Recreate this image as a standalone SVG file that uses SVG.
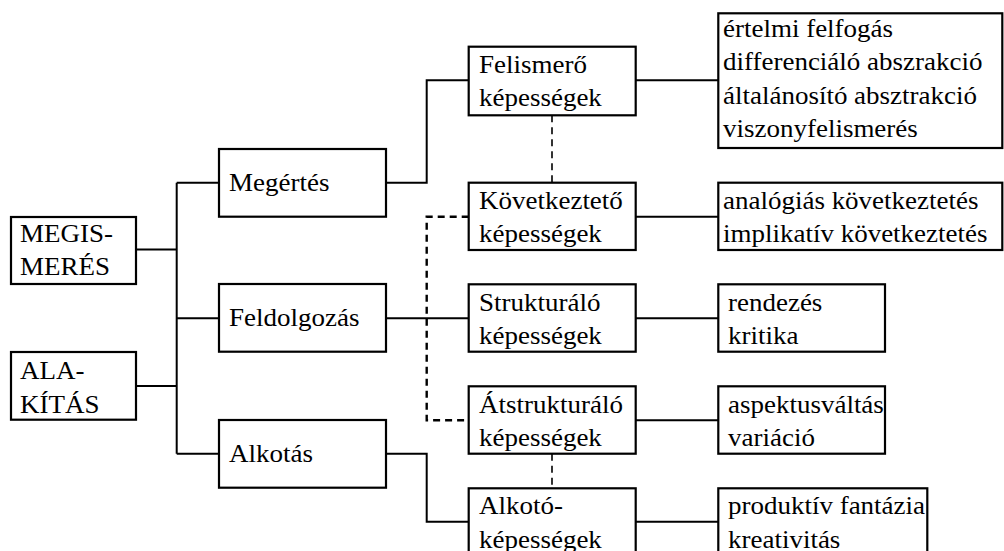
<svg xmlns="http://www.w3.org/2000/svg" width="1004" height="551" viewBox="0 0 1004 551">
<style>
.b{fill:#fff;stroke:#000;stroke-width:2.2}
.t{font-family:'Liberation Serif','Times New Roman',serif;font-size:25px;fill:#000}
.c{fill:none;stroke:#000;stroke-width:2}
.d{fill:none;stroke:#000;stroke-width:2.4;stroke-dasharray:7 5}
.d2{fill:none;stroke:#000;stroke-width:1.6;stroke-dasharray:7 5}
</style>
<rect width="1004" height="551" fill="#fff"/>
<g id="connectors">
<path class="c" d="M136 249.5H176.7M136 386H176.7M176.7 182.7V453.7M176.7 182.7H219M176.7 318.3H219M176.7 453.7H219"/>
<path class="c" d="M386 182.7H426.7V80.3H468.7"/>
<path class="c" d="M386 318.3H468.7"/>
<path class="c" d="M386 453.7H426.7V521.7H468.7"/>
<path class="d" d="M468.7 216.7H426.7V420.3H468.7"/>
<path class="d2" d="M552 115.3V182.7M552 453.7V488.3"/>
<path class="c" d="M635.7 80.3H718.3M635.7 216.7H718.3M635.7 318.3H718.3M635.7 420.3H718.3M635.7 521.7H718.3"/>
</g>
<g id="n-megismeres"><rect class="b" x="11" y="217" width="125" height="67"/>
<text class="t" transform="translate(20 241.7) scale(1.08 1)"><tspan x="0" y="0">MEGIS-</tspan><tspan x="0" y="33.4">MERÉS</tspan></text></g>
<g id="n-alakitas"><rect class="b" x="11" y="352" width="125" height="67.7"/>
<text class="t" transform="translate(20 378.7) scale(1.08 1)"><tspan x="0" y="0">ALA-</tspan><tspan x="0" y="34">KÍTÁS</tspan></text></g>
<g id="n-megertes"><rect class="b" x="219" y="149" width="167" height="67.7"/>
<text class="t" transform="translate(229 190.7) scale(1.08 1)">Megértés</text></g>
<g id="n-feldolgozas"><rect class="b" x="219" y="284" width="167" height="67.7"/>
<text class="t" transform="translate(229 326) scale(1.08 1)">Feldolgozás</text></g>
<g id="n-alkotas"><rect class="b" x="219" y="420" width="167" height="67.7"/>
<text class="t" transform="translate(229 462.3) scale(1.08 1)">Alkotás</text></g>
<g id="n-felismero"><rect class="b" x="468.7" y="46.7" width="167" height="68.6"/>
<text class="t" transform="translate(479 72.7) scale(1.08 1)"><tspan x="0" y="0">Felismerő</tspan><tspan x="0" y="33.4">képességek</tspan></text></g>
<g id="n-kovetkezteto"><rect class="b" x="468.7" y="182.7" width="167" height="67.3"/>
<text class="t" transform="translate(479 208.5) scale(1.08 1)"><tspan x="0" y="0">Következtető</tspan><tspan x="0" y="33.4">képességek</tspan></text></g>
<g id="n-strukturalo"><rect class="b" x="468.7" y="284.3" width="167" height="67.4"/>
<text class="t" transform="translate(479 311) scale(1.08 1)"><tspan x="0" y="0">Strukturáló</tspan><tspan x="0" y="33.4">képességek</tspan></text></g>
<g id="n-atstrukturalo"><rect class="b" x="468.7" y="386.3" width="167" height="67.4"/>
<text class="t" transform="translate(479 412.7) scale(1.08 1)"><tspan x="0" y="0">Átstrukturáló</tspan><tspan x="0" y="33.4">képességek</tspan></text></g>
<g id="n-alkoto"><rect class="b" x="468.7" y="488.3" width="167" height="80"/>
<text class="t" transform="translate(479 514.3) scale(1.08 1)"><tspan x="0" y="0">Alkotó-</tspan><tspan x="0" y="33.4">képességek</tspan></text></g>
<g id="r-ertelmi"><rect class="b" x="718.3" y="13.3" width="284" height="134.7"/>
<text class="t" transform="translate(723 36.7) scale(1.08 1)"><tspan x="0" y="0">értelmi felfogás</tspan><tspan x="0" y="33.5">differenciáló abszrakció</tspan><tspan x="0" y="67">általánosító absztrakció</tspan><tspan x="0" y="100.5">viszonyfelismerés</tspan></text></g>
<g id="r-analogias"><rect class="b" x="718.3" y="182.7" width="284" height="67.3"/>
<text class="t" transform="translate(723 208.5) scale(1.08 1)"><tspan x="0" y="0">analógiás következtetés</tspan><tspan x="0" y="33.4">implikatív következtetés</tspan></text></g>
<g id="r-rendezes"><rect class="b" x="718.3" y="284.3" width="166.7" height="67.4"/>
<text class="t" transform="translate(728 311) scale(1.08 1)"><tspan x="0" y="0">rendezés</tspan><tspan x="0" y="33.4">kritika</tspan></text></g>
<g id="r-aspektus"><rect class="b" x="718.3" y="386.3" width="166.7" height="67.4"/>
<text class="t" transform="translate(728 412.7) scale(1.08 1)"><tspan x="0" y="0">aspektusváltás</tspan><tspan x="0" y="33.4">variáció</tspan></text></g>
<g id="r-produktiv"><rect class="b" x="718.3" y="488.3" width="209" height="80"/>
<text class="t" transform="translate(728 514.3) scale(1.08 1)"><tspan x="0" y="0">produktív fantázia</tspan><tspan x="0" y="33.4">kreativitás</tspan></text></g>
</svg>
